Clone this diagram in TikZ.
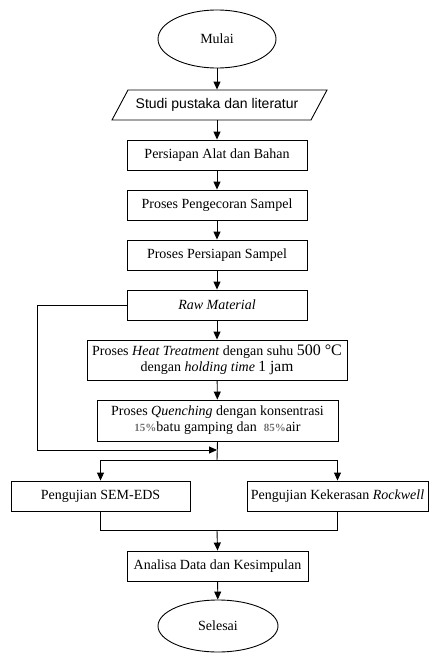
\documentclass[tikz,border=0pt]{standalone}
\usepackage{fontspec}
\setmainfont{Liberation Serif}
\newfontfamily\arialfont{Liberation Sans}
\usetikzlibrary{shapes.geometric,arrows.meta}
\begin{document}
\begin{tikzpicture}[x=1pt,y=-1pt,
  line width=0.9pt,
  arr/.style={-{Triangle[length=8pt,width=7pt]}},
  box/.style={draw, rectangle, minimum width=180pt, minimum height=30pt, inner sep=0pt, font=\fontsize{14}{17}\selectfont, align=center},
  term/.style={draw, ellipse, minimum width=118pt, minimum height=58pt, inner sep=0pt, font=\fontsize{14}{17}\selectfont},
  pct/.style={}
]
\useasboundingbox (0,0) rectangle (438,661);
\fill[white] (0,0) rectangle (438,661);

\node[term] (mulai) at (217,39) {Mulai};

\draw (128,90) -- (327,90) -- (311,120) -- (112,120) -- cycle;
\node[minimum width=190pt, minimum height=30pt, inner sep=0pt, font=\arialfont\fontsize{14}{17}\selectfont] (studi) at (217,105) {Studi pustaka dan literatur};

\node[box] (alat) at (217,155) {Persiapan Alat dan Bahan};
\node[box] (cor) at (217,205) {Proses Pengecoran Sampel};
\node[box] (siap) at (217,255) {Proses Persiapan Sampel};
\node[box] (raw) at (217,305) {\textit{Raw Material}};
\node[box, minimum width=260pt, minimum height=40pt] (heat) at (217,360)
  {Proses \textit{Heat Treatment} dengan suhu {\fontsize{16}{17}\selectfont 500 °C}\\[-1pt]
   dengan \textit{holding time} {\fontsize{15.5}{17}\selectfont 1 jam}};
\node[box, minimum width=241pt, minimum height=41pt] (quench) at (217.5,420.5)
  {Proses \textit{Quenching} dengan konsentrasi\\[-1pt]
   {\color{black!55}\bfseries\fontsize{11}{13}\selectfont 15\%}batu gamping dan\ \ {\color{black!55}\bfseries\fontsize{11}{13}\selectfont 85\%}air};
\node[box, minimum width=179pt] (sem) at (100.5,496) {Pengujian SEM-EDS};
\node[box, minimum width=181pt] (kek) at (337.5,496) {Pengujian Kekerasan \textit{Rockwell}};
\node[box, minimum width=181pt] (anal) at (217.5,566) {Analisa Data dan Kesimpulan};
\node[term, minimum width=120pt, minimum height=52pt] (selesai) at (218,626) {Selesai};

\coordinate (j1) at (217,450);
\coordinate (sp) at (217,460);
\coordinate (jn) at (217,530);
\coordinate (lp1) at (37,305);
\coordinate (lp2) at (37,450);

\draw[arr] (mulai) -- (studi);
\draw[arr] (studi) -- (alat);
\draw[arr] (alat) -- (cor);
\draw[arr] (cor) -- (siap);
\draw[arr] (siap) -- (raw);
\draw[arr] (raw) -- (heat);
\draw[arr] (heat) -- (quench);
\draw[arr] (raw.west) -- (lp1) -- (lp2) -- (j1);
\draw (quench.south) -- (sp);
\draw[arr] (sp) -| (sem.north);
\draw[arr] (sp) -| (kek.north);
\draw (sem.south) |- (jn);
\draw (kek.south) |- (jn);
\draw[arr] (jn) -- (anal.north);
\draw[arr] (anal) -- (selesai);
\end{tikzpicture}
\end{document}
